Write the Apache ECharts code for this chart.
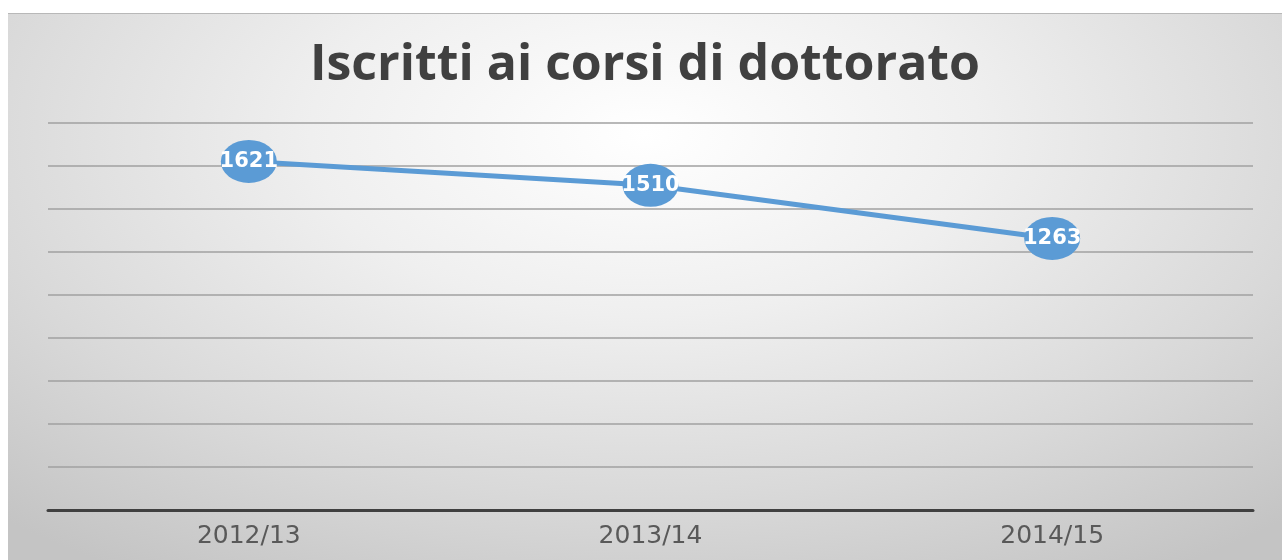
<!DOCTYPE html>
<html>
<head>
<meta charset="utf-8">
<script src="https://cdn.jsdelivr.net/npm/echarts@6/dist/echarts.min.js"></script>
<style>
  html, body { margin: 0; padding: 0; background: #fff; }
  #chart {
    position: absolute; left: 8px; top: 13px; width: 1274px; height: 547px;
    border-top: 1px solid #b8b8b8;
    background: radial-gradient(ellipse 75% 95% at 50% 22%, #ffffff 0%, #efefef 35%, #d9d9d9 70%, #c4c4c4 100%);
  }
</style>
</head>
<body>
<div id="chart"></div>
<script>
// dati
const anni    = ['2012/13', '2013/14', '2014/15'];
const iscritti = [1621, 1510, 1263];

const chart = echarts.init(document.getElementById('chart'));

chart.setOption({
  animation: false,
  title: {
    text: 'Iscritti ai corsi di dottorato',
    left: 'center', top: 22,
    textStyle: { fontFamily: 'Open Sans', fontWeight: 'bold', fontSize: 50, color: '#404040' }
  },
  grid: { left: 40, right: 29, top: 109, bottom: 51 },
  xAxis: {
    type: 'category',
    data: anni,
    axisLine: { lineStyle: { color: '#404040', width: 3 } },
    axisTick: { show: false },
    axisLabel: { margin: 14, fontFamily: 'DejaVu Sans', fontSize: 25, color: '#595959' }
  },
  yAxis: {
    type: 'value', min: 0, max: 1800, interval: 200,
    axisLabel: { show: false },
    axisLine: { show: false },
    axisTick: { show: false },
    splitLine: { lineStyle: { color: '#a0a0a0', width: 1.5 } }
  },
  series: [{
    type: 'line',
    data: iscritti,
    lineStyle: { color: '#5b9bd5', width: 5 },
    symbol: 'path://M0,50 A50,50 0 1 1 100,50 A50,50 0 1 1 0,50 Z',
    symbolSize: [56, 43],
    itemStyle: { color: '#5b9bd5' },
    label: {
      show: true, position: 'inside',
      fontFamily: 'DejaVu Sans', fontWeight: 'bold', fontSize: 21, color: '#fff'
    }
  }]
});
</script>
</body>
</html>
